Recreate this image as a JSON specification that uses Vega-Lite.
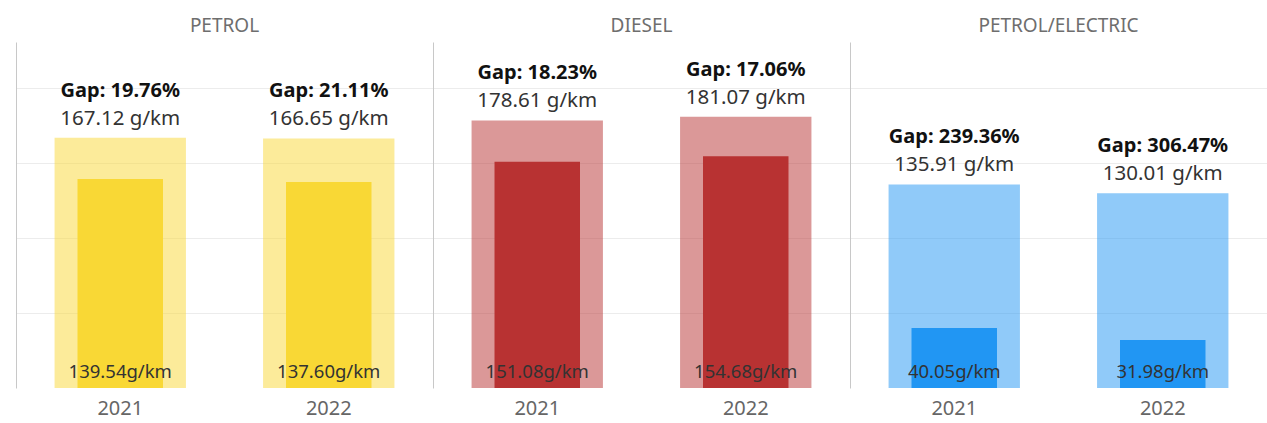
{
  "$schema": "https://vega.github.io/schema/vega-lite/v6.json",
  "padding": {"left": 16, "top": 17, "right": 0, "bottom": 0},
  "data": {
    "values": [
      {"fuel": "PETROL", "year": "2021", "real": 167.12, "official": 139.54, "gap": 19.76},
      {"fuel": "PETROL", "year": "2022", "real": 166.65, "official": 137.60, "gap": 21.11},
      {"fuel": "DIESEL", "year": "2021", "real": 178.61, "official": 151.08, "gap": 18.23},
      {"fuel": "DIESEL", "year": "2022", "real": 181.07, "official": 154.68, "gap": 17.06},
      {"fuel": "PETROL/ELECTRIC", "year": "2021", "real": 135.91, "official": 40.05, "gap": 239.36},
      {"fuel": "PETROL/ELECTRIC", "year": "2022", "real": 130.01, "official": 31.98, "gap": 306.47}
    ]
  },
  "transform": [
    {"calculate": "'Gap: ' + format(datum.gap, '.2f') + '%'", "as": "gap_label"},
    {"calculate": "format(datum.real, '.2f') + ' g/km'", "as": "real_label"},
    {"calculate": "format(datum.official, '.2f') + 'g/km'", "as": "official_label"}
  ],
  "facet": {
    "column": {
      "field": "fuel",
      "type": "nominal",
      "sort": ["PETROL", "DIESEL", "PETROL/ELECTRIC"],
      "title": null,
      "header": {
        "labelFont": "Noto Sans",
        "labelFontSize": 19,
        "labelColor": "#6e6e6e",
        "labelPadding": 6
      }
    }
  },
  "spacing": 0,
  "resolve": {"axis": {"y": "independent"}},
  "spec": {
    "width": 417,
    "height": 346,
    "encoding": {
      "x": {
        "field": "year",
        "type": "nominal",
        "title": null,
        "scale": {"paddingInner": 0, "paddingOuter": 0},
        "axis": {
          "labelAngle": 0,
          "labelFont": "Noto Sans",
          "labelFontSize": 20,
          "labelColor": "#666666",
          "labelPadding": 10,
          "ticks": false,
          "domain": false
        }
      }
    },
    "layer": [
      {
        "mark": {"type": "bar", "width": {"band": 0.63}, "opacity": 0.5},
        "encoding": {
          "y": {
            "field": "real",
            "type": "quantitative",
            "scale": {"domain": [0, 231], "nice": false},
            "title": null,
            "axis": {
              "values": [50, 100, 150, 200],
              "labels": false,
              "ticks": false,
              "domain": true,
              "domainColor": "#c8c8c8",
              "gridColor": "#ececec"
            }
          },
          "color": {
            "field": "fuel",
            "type": "nominal",
            "legend": null,
            "scale": {
              "domain": ["PETROL", "DIESEL", "PETROL/ELECTRIC"],
              "range": ["#f9d835", "#b83232", "#2196f3"]
            }
          }
        }
      },
      {
        "mark": {"type": "bar", "width": {"band": 0.41}},
        "encoding": {
          "y": {"field": "official", "type": "quantitative"},
          "color": {"field": "fuel", "type": "nominal", "legend": null}
        }
      },
      {
        "mark": {"type": "text", "font": "Noto Sans", "fontSize": 20, "fontWeight": "bold", "color": "#111111", "baseline": "middle", "dy": -47},
        "encoding": {
          "y": {"field": "real", "type": "quantitative"},
          "text": {"field": "gap_label"}
        }
      },
      {
        "mark": {"type": "text", "font": "Noto Sans", "fontSize": 20.5, "color": "#333333", "baseline": "middle", "dy": -19},
        "encoding": {
          "y": {"field": "real", "type": "quantitative"},
          "text": {"field": "real_label"}
        }
      },
      {
        "mark": {"type": "text", "font": "Noto Sans", "fontSize": 18.5, "color": "#333333", "baseline": "middle", "dy": -16},
        "encoding": {
          "y": {"datum": 0, "type": "quantitative"},
          "text": {"field": "official_label"}
        }
      }
    ]
  },
  "config": {
    "view": {"stroke": null},
    "axis": {"gridColor": "#ececec"}
  }
}
